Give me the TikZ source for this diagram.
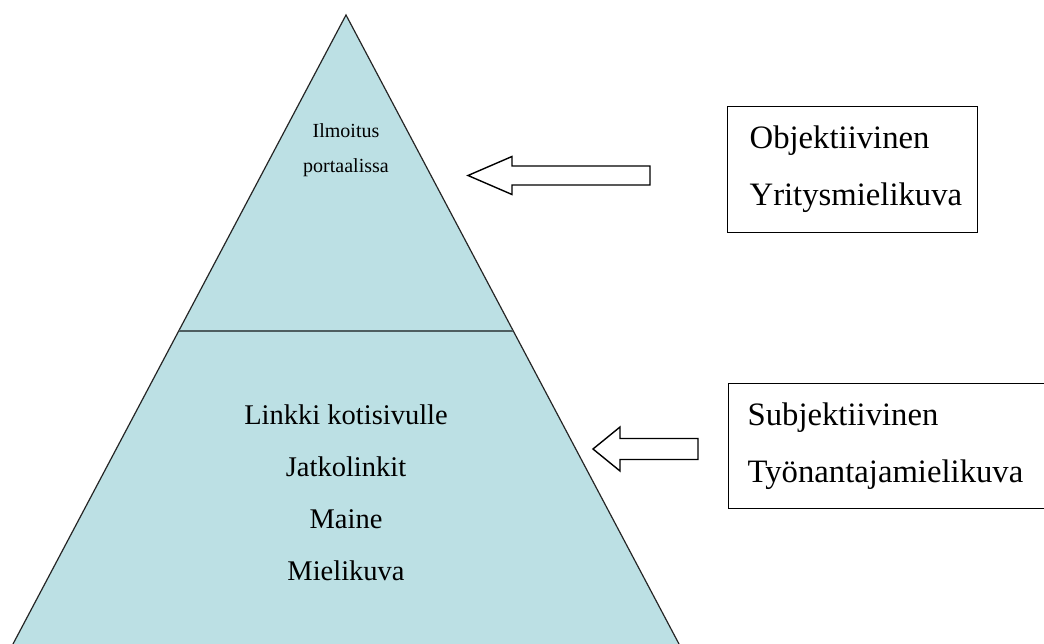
\documentclass[tikz,border=0pt]{standalone}
\usepackage{fontspec}
\setmainfont{Liberation Serif}
\usetikzlibrary{positioning}
\definecolor{pyrfill}{RGB}{188,224,228}
\definecolor{pyrline}{HTML}{4E5E60}

\begin{document}
\begin{tikzpicture}[x=1pt, y=-1pt,
  toptext/.style={font=\fontsize{20}{35}\selectfont, align=center, inner sep=0pt},
  level/.style={font=\fontsize{28.5}{52}\selectfont, align=center, inner sep=0pt},
  infobox/.style={draw, line width=1.3pt, anchor=north west, align=left,
    inner xsep=22pt, font=\fontsize{32.7}{57}\selectfont},
  blockarr/.style={draw, line width=1.4pt, fill=white, line join=miter},
]
\clip (0,0) rectangle (1044,644);
% pyramid
\coordinate (apex) at (346,15);
\coordinate (bl) at (13,644);
\coordinate (br) at (679,644);
\fill[pyrfill] (apex) -- (bl) -- (br) -- cycle;
\draw[line width=1.2pt, black!85] (bl) -- (apex) -- (br);
\draw[line width=2.5pt, pyrline] (179,331) -- (513,331);
\node[toptext, anchor=base] (top) at (346,173) {Ilmoitus\\portaalissa};
\node[level, anchor=base] (bottom) at (346,580) {Linkki kotisivulle\\Jatkolinkit\\Maine\\Mielikuva};
% boxes
\node[infobox, minimum width=250, minimum height=126, text width=206] (obj) at (727,106)
  {Objektiivinen\\Yritysmielikuva};
\node[infobox, inner xsep=19pt, minimum height=125, text width=300] (subj) at (728,383)
  {Subjektiivinen\\Työnantajamielikuva};
% block arrows
\draw[blockarr] (468,175.5) -- (512,156.5) -- (512,166) -- (650,166) -- (650,185)
  -- (512,185) -- (512,194.5) -- cycle;
\draw[blockarr] (593,449) -- (620,427) -- (620,438.5) -- (698,438.5) -- (698,459.5)
  -- (620,459.5) -- (620,471) -- cycle;
\end{tikzpicture}
\end{document}
